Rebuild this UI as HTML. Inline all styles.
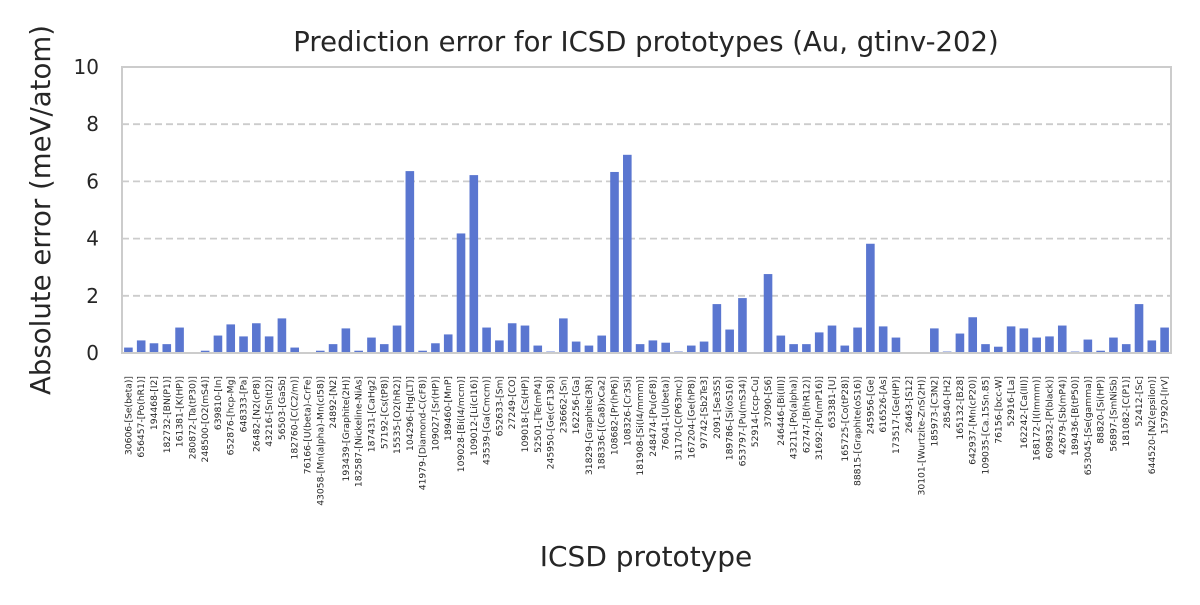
<!DOCTYPE html>
<html><head><meta charset="utf-8"><style>
body{margin:0;background:#fff;}
svg text{font-family:"DejaVu Sans","Liberation Sans",sans-serif;fill:#262626;}
</style></head><body>
<svg id="chart" width="1200" height="600" viewBox="0 0 1200 600">
<rect width="1200" height="600" fill="#fff"/>
<text x="646" y="51" font-size="27.5" text-anchor="middle">Prediction error for ICSD prototypes (Au, gtinv-202)</text>
<g id="grid"></g>
<g id="bars"></g>
<rect x="122" y="67" width="1049" height="286" fill="none" stroke="#cccccc" stroke-width="2"/>
<g id="yticks"></g>
<g id="xticks"></g>
<text transform="translate(50,210) rotate(-90)" font-size="27.6" text-anchor="middle">Absolute error (meV/atom)</text>
<text x="646" y="566" font-size="28" text-anchor="middle">ICSD prototype</text>
</svg>
<script>
const categories = ["30606-[Se(beta)]","656457-[Po(hR1)]","194468-[I2]","182732-[BN(P1)]","161381-[K(HP)]","280872-[Ta(tP30)]","248500-[O2(mS4)]","639810-[In]","652876-[hcp-Mg]","648333-[Pa]","26482-[N2(cP8)]","43216-[Sn(tI2)]","56503-[GaSb]","182760-[C(C2/m)]","76166-[U(beta)-CrFe]","43058-[Mn(alpha)-Mn(cI58)]","24892-[N2]","193439-[Graphite(2H)]","182587-[Nickeline-NiAs]","187431-[CaHg2]","57192-[Cs(tP8)]","15535-[O2(hR2)]","104296-[Hg(LT)]","41979-[Diamond-C(cF8)]","109027-[Sr(HP)]","189460-[MnP]","109028-[Bi(I4/mcm)]","109012-[Li(cI16)]","43539-[Ga(Cmcm)]","652633-[Sm]","27249-[CO]","109018-[Cs(HP)]","52501-[Te(mP4)]","245950-[Ge(cF136)]","236662-[Sn]","162256-[Ga]","31829-[Graphite(3R)]","188336-[(Ca8)xCa2]","108682-[Pr(hP6)]","108326-[Cr3Si]","181908-[Si(I4/mmm)]","248474-[Pu(oF8)]","76041-[U(beta)]","31170-[C(P63mc)]","167204-[Ge(hP8)]","97742-[Sb2Te3]","2091-[Se3S5]","189786-[Si(oS16)]","653797-[Pu(mS34)]","52914-[ccp-Cu]","37090-[S6]","246446-[Bi(III)]","43211-[Po(alpha)]","62747-[B(hR12)]","31692-[Pu(mP16)]","653381-[U]","165725-[Co(tP28)]","88815-[Graphite(oS16)]","245956-[Ge]","616526-[As]","173517-[Ge(HP)]","26463-[S12]","30101-[Wurtzite-ZnS(2H)]","185973-[C3N2]","28540-[H2]","165132-[B28]","642937-[Mn(cP20)]","109035-[Ca.15Sn.85]","76156-[bcc-W]","52916-[La]","162242-[Ca(III)]","168172-[I(Immm)]","609832-[P(black)]","42679-[Sb(mP4)]","189436-[B(tP50)]","653045-[Se(gamma)]","88820-[Si(HP)]","56897-[SmNiSb]","181082-[C(P1)]","52412-[Sc]","644520-[N2(epsilon)]","157920-[IrV]"];
const errors = [0.19,0.44,0.34,0.31,0.89,0,0.08,0.61,1.0,0.58,1.04,0.58,1.21,0.19,0,0.08,0.31,0.86,0.08,0.54,0.31,0.96,6.36,0.08,0.34,0.65,4.18,6.22,0.89,0.44,1.04,0.96,0.26,0.05,1.21,0.4,0.26,0.61,6.33,6.93,0.31,0.44,0.36,0.05,0.26,0.4,1.71,0.82,1.92,0,2.76,0.61,0.31,0.31,0.72,0.96,0.26,0.89,3.82,0.93,0.54,0,0,0.86,0.05,0.68,1.25,0.31,0.22,0.93,0.86,0.54,0.58,0.96,0.05,0.47,0.08,0.54,0.31,1.71,0.44,0.89];
const yTicks = [0,2,4,6,8,10];
const X0=122,X1=1171,Y0=353,Y1=67,YMAX=10;
const NS='http://www.w3.org/2000/svg';
const step=(X1-X0)/categories.length;
const xc=i=>X0+step*(i+0.5);
const y=v=>Y0-(v/YMAX)*(Y0-Y1);
const grid=document.getElementById('grid'),bars=document.getElementById('bars'),yt=document.getElementById('yticks'),xt=document.getElementById('xticks');
yTicks.forEach(t=>{
  if(t>0&&t<YMAX){const l=document.createElementNS(NS,'line');
    l.setAttribute('x1',X0);l.setAttribute('x2',X1);l.setAttribute('y1',y(t));l.setAttribute('y2',y(t));
    l.setAttribute('stroke','#cccccc');l.setAttribute('stroke-width','1.8');l.setAttribute('stroke-dasharray','7,4');
    
    
    grid.appendChild(l);}
  const tx=document.createElementNS(NS,'text');
  tx.setAttribute('x',99);tx.setAttribute('y',y(t)+7);tx.setAttribute('font-size','20');tx.setAttribute('text-anchor','end');
  tx.textContent=t;
  
  
  yt.appendChild(tx);
});
const bw=8.6;
errors.forEach((v,i)=>{
  const r=document.createElementNS(NS,'rect');
  r.setAttribute('x',xc(i)-bw/2);r.setAttribute('width',bw);
  r.setAttribute('y',y(v));r.setAttribute('height',Math.max(0,Y0-y(v)));
  r.setAttribute('fill','#5a76d0');
  
  
  bars.appendChild(r);
});
categories.forEach((c,i)=>{
  const tx=document.createElementNS(NS,'text');
  tx.setAttribute('transform','translate('+(xc(i)+3)+',376) rotate(-90)');
  tx.setAttribute('font-size','9.2');tx.setAttribute('text-anchor','end');
  tx.textContent=c;
  
  
  xt.appendChild(tx);
});
</script>
</body></html>
